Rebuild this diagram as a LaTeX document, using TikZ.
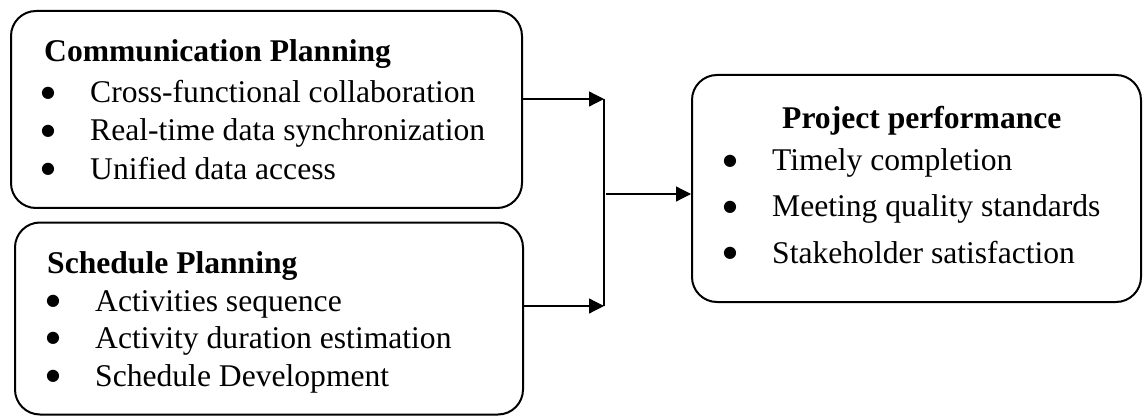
\documentclass[tikz,border=0pt]{standalone}
\usepackage{fontspec}
\setmainfont{Liberation Serif}
\newfontfamily\bulletfont{DejaVu Sans}
\usetikzlibrary{arrows.meta}
\begin{document}
\begin{tikzpicture}[x=1pt,y=-1pt,
  box/.style={draw,line width=2pt,rounded corners=25pt,rectangle,inner sep=0pt},
  txt/.style={anchor=base west,inner sep=0pt,font=\fontsize{31.6}{37}\selectfont},
  ttl/.style={txt,font=\fontsize{31.6}{37}\selectfont\bfseries},
  bul/.style={anchor=center,inner sep=0pt,font=\bulletfont\fontsize{16}{16}\selectfont},
  conn/.style={line width=1.2pt},
  arr/.style={conn,-{Triangle[length=15pt,width=15pt]}}]
\useasboundingbox (0,0) rectangle (1144,417);
% boxes
\node[box,minimum width=511pt,minimum height=197pt] (comm) at (266.5,109.5) {};
\node[box,minimum width=508pt,minimum height=192pt] (sched) at (269,318.5) {};
\node[box,minimum width=449pt,minimum height=227pt] (perf) at (916.5,188.5) {};
% texts box 1
\node[ttl] (t1) at (44,62) {Communication Planning};
\node[bul] (b11) at (48,93) {●};
\node[txt] (i11) at (90,103) {Cross-functional collaboration};
\node[bul] (b12) at (48,131) {●};
\node[txt] (i12) at (90,141) {Real-time data synchronization};
\node[bul] (b13) at (48,169) {●};
\node[txt] (i13) at (90,179) {Unified data access};
% texts box 2
\node[ttl] (t2) at (47,273) {Schedule Planning};
\node[bul] (b21) at (53,301) {●};
\node[txt] (i21) at (95,311) {Activities sequence};
\node[bul] (b22) at (53,338) {●};
\node[txt] (i22) at (95,348) {Activity duration estimation};
\node[bul] (b23) at (53,376) {●};
\node[txt] (i23) at (95,386) {Schedule Development};
% texts box 3
\node[ttl] (t3) at (782,129) {Project performance};
\node[bul] (b31) at (730,161) {●};
\node[txt] (i31) at (772,171) {Timely completion};
\node[bul] (b32) at (730,207) {●};
\node[txt] (i32) at (772,217) {Meeting quality standards};
\node[bul] (b33) at (730,253) {●};
\node[txt] (i33) at (772,263) {Stakeholder satisfaction};
% connectors
\coordinate (j1) at (604,99);
\coordinate (j2) at (604,306);
\coordinate (jm) at (606,194);
\draw[arr] (comm.east |- j1) -- (j1);
\draw[arr] (sched.east |- j2) -- (j2);
\draw[conn] (j1) -- (j2);
\draw[arr] (jm) -- (perf.west |- jm);
\end{tikzpicture}
\end{document}
